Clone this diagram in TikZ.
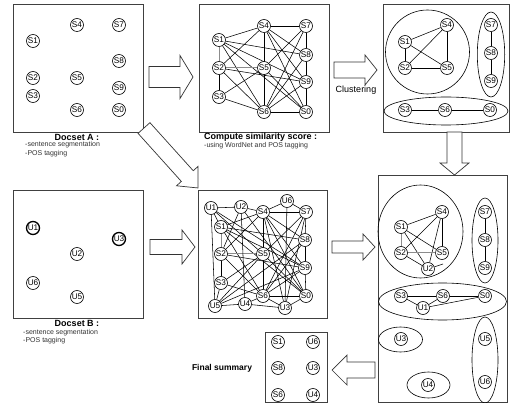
\documentclass[tikz,border=0pt]{standalone}
\usepackage{fontspec}
\setmainfont{Liberation Sans}
\usetikzlibrary{backgrounds}
\tikzset{
 sn/.style={circle,draw=black,fill=white,inner sep=0pt,minimum size=13pt,line width=0.6pt,font=\fontsize{8.2}{9}\selectfont},
 boldsn/.style={sn,line width=1.3pt},
 panel/.style={draw=black!75,line width=0.8pt},
 ed/.style={line width=0.55pt},
 grayed/.style={draw=black!45,line width=1pt},
 thk/.style={line width=1pt},
 clus/.style={draw=black,line width=0.6pt},
 blockarr/.style={draw=black!80,line width=0.7pt,fill=white},
 ttl/.style={font=\bfseries\fontsize{9}{10}\selectfont,inner sep=0pt},
 sub/.style={font=\fontsize{7}{8}\selectfont,text=black!80,inner sep=0pt},
 lbl/.style={font=\fontsize{9}{10}\selectfont,inner sep=0pt},
}
\newcommand{\blkarrow}[7]{%
 \begin{scope}[shift={(#1,#2)},rotate=#3]
 \draw[blockarr] (0,-#5) -- ({#4-#7},-#5) -- ({#4-#7},-#6) -- (#4,0) -- ({#4-#7},#6) -- ({#4-#7},#5) -- (0,#5) -- cycle;
 \end{scope}}
\begin{document}
\begin{tikzpicture}[x=1pt,y=-1pt]
\useasboundingbox (0,0) rectangle (511,403);

% panels
\draw[panel] (13,4) rectangle (143,132);
\draw[panel] (199,4) rectangle (329,132);
\draw[panel] (383,4) rectangle (509,132);
\draw[panel] (13,190) rectangle (143,318);
\draw[panel] (198,190) rectangle (327,318);
\draw[panel] (378,175) rectangle (507,402.6);
\draw[panel] (265,332) rectangle (327,402.6);

% Docset A
\foreach \n/\x/\y in {S4/77/25,S7/119/25,S1/33/41,S8/119/61,S2/33/78,S5/77/78,S9/119/88,S3/33/96,S6/77/110,S0/119/110}
  \node[sn] (a\n) at (\x,\y) {\n};

% similarity graph
\foreach \n/\x/\y in {S4/264/26,S7/306/26,S1/219/40,S8/306/55,S2/219/68,S5/264/68,S9/306/82,S3/219/97,S6/264/112,S0/306/112}
  \node[sn] (b\n) at (\x,\y) {\n};

% clusters
\foreach \n/\x/\y in {S4/447/25,S1/405/42,S2/405/68,S5/447/68,S7/491/25,S8/491/53,S9/491/81,S3/405/110,S6/445/110,S0/490/110}
  \node[sn] (c\n) at (\x,\y) {\n};
\draw[clus] (427.5,52) circle[radius=42pt];
\draw[clus] (491,54.5) ellipse[x radius=13.7pt,y radius=42.5pt];
\draw[clus] (446,111) ellipse[x radius=62pt,y radius=14pt];

% Docset B
\node[boldsn] (gU1) at (33,228) {U1};
\node[boldsn] (gU3) at (119,239) {U3};
\node[sn] (gU2) at (77,254) {U2};
\node[sn] (gU6) at (33,283) {U6};
\node[sn] (gU5) at (77,297) {U5};

% combined graph
\foreach \n/\x/\y in {U1/211/208,U2/241/207,U6/287/201,S4/263/212,S7/306/212,S1/221/227,S8/305/240,S2/221/254,S5/263/254,S9/305/268,S3/221/283,S6/263/296,S0/306/296,U5/215/306,U4/245/304,U3/285/308}
  \node[sn] (d\n) at (\x,\y) {\n};

% combined clusters
\foreach \n/\x/\y in {S4/442/212,S1/401/227,S2/401/253,S5/442/253,U2/428/269,S7/485/212,S8/485/240,S9/485/268,S3/401/296,S6/443/296,S0/485/296,U1/423/308,U3/401/339,U4/428/385,U5/485/339,U6/485/382}
  \node[sn] (e\n) at (\x,\y) {\n};
\coordinate (estub) at (443,264);
\draw[clus] (420.5,231.5) ellipse[x radius=42.5pt,y radius=46.5pt];
\draw[clus] (485,240.5) ellipse[x radius=13pt,y radius=42.5pt];
\draw[clus] (442.5,301.5) ellipse[x radius=64pt,y radius=18.5pt];
\draw[clus] (400.5,339.5) ellipse[x radius=22pt,y radius=12.5pt];
\draw[clus] (428.5,385) ellipse[x radius=21.5pt,y radius=13pt];
\draw[clus] (485,360) ellipse[x radius=13pt,y radius=43pt];

% final summary
\foreach \n/\x/\y in {S1/278/342,U6/313/342,S8/278/368,U3/313/368,S6/278/395,U4/313/395}
  \node[sn] (f\n) at (\x,\y) {\n};

% edges
\begin{pgfonlayer}{background}
\fill[white] (0,0) rectangle (511,403);
\foreach \u/\v in {S1/S4,S4/S7,S7/S8,S8/S9,S9/S0,S6/S0,S4/S5,S5/S6,S1/S8,S1/S9,S1/S0,S1/S6,S2/S4,S2/S9,S2/S6,S3/S5,S3/S6,S4/S8,S4/S9,S4/S0,S4/S6,S5/S7,S5/S0,S6/S7,S6/S8,S6/S9}
  {\draw[ed] (b\u) -- (b\v); \draw[ed] (d\u) -- (d\v);}
\draw[grayed] (bS1) -- (bS2); \draw[grayed] (bS2) -- (bS5); \draw[thk] (bS2) -- (bS3);
\draw[grayed] (dS1) -- (dS2); \draw[grayed] (dS2) -- (dS5); \draw[thk] (dS2) -- (dS3);
\foreach \u/\v in {U1/U2,U1/S1,U1/U5,U1/S5,U1/S9,U2/S4,U2/U4,U2/S2,U2/S0,U6/S4,U6/S7,U6/U3,U3/U4,U3/S0,U3/S6,U3/S4,U3/S7,U4/U5,U4/S6,U5/S3,U5/S5,U5/S9,U5/S8}
  \draw[ed] (d\u) -- (d\v);
\foreach \u/\v in {S1/S4,S1/S2,S2/S5,S4/S5,S1/S5,S2/S4,S7/S8,S8/S9,S3/S6,S6/S0}
  \draw[ed] (c\u) -- (c\v);
\foreach \u/\v in {S1/S4,S4/S5,S1/S5,S2/S4,S1/U2,S2/U2,S4/U2,S7/S8,S8/S9,S3/S6,S6/S0,S3/U1,U1/S6,U1/S0}
  \draw[ed] (e\u) -- (e\v);
\draw[grayed] (eS1) -- (eS2); \draw[grayed] (eS2) -- (eS5);
\draw[ed] (eU2) -- (estub);
\end{pgfonlayer}

% block arrows
\blkarrow{149}{77}{0}{44}{10.5}{21.5}{13}
\blkarrow{334}{70}{0}{43}{8}{15}{12}
\blkarrow{454.5}{132}{-90}{43}{7.5}{14.5}{12}
\blkarrow{150}{247}{0}{45}{7.5}{17}{13}
\blkarrow{332}{247}{0}{43}{6}{13}{12}
\blkarrow{375}{370}{180}{43}{8}{15}{15}
\blkarrow{144}{128}{-48}{80.7}{8}{14.5}{16}

% captions
\node[ttl] (capA) at (77,137) {Docset A :};
\node[sub,anchor=west] (capA1) at (25,145) {-sentence segmentation};
\node[sub,anchor=west] (capA2) at (25,154) {-POS tagging};
\node[ttl,anchor=west] (capS) at (204,137) {Compute similarity score :};
\node[sub,anchor=west] (capS1) at (204,145.5) {-using WordNet and POS tagging};
\node[lbl] (clu) at (356,90) {Clustering};
\node[ttl] (capB) at (77,323) {Docset B :};
\node[sub,anchor=west] (capB1) at (23,332.5) {-sentence segmentation};
\node[sub,anchor=west] (capB2) at (23,341) {-POS tagging};
\node[ttl,font=\bfseries\fontsize{8.5}{10}\selectfont] (fin) at (222,368) {Final summary};
\end{tikzpicture}
\end{document}
